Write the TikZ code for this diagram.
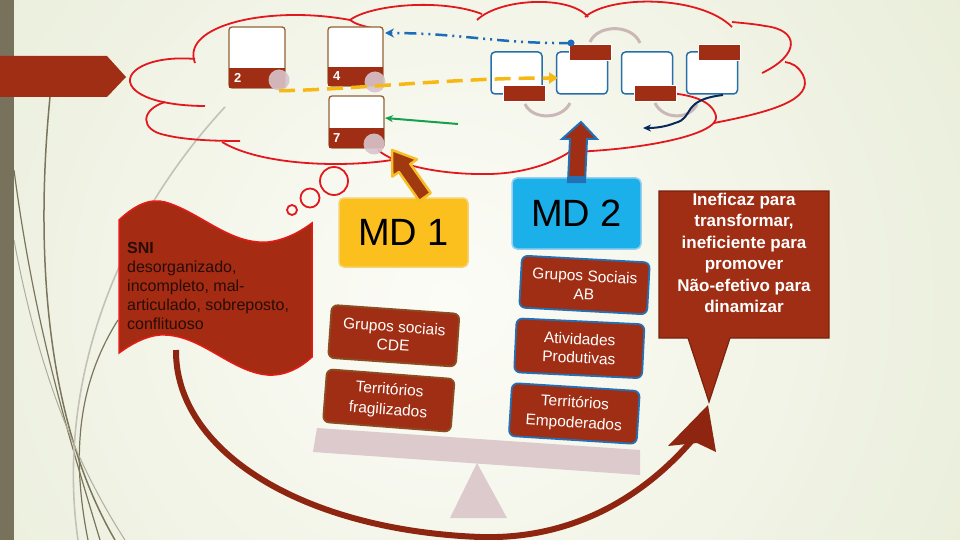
\documentclass[tikz,border=0pt]{standalone}
\usepackage{fontspec}
\setmainfont{Liberation Sans}
\usetikzlibrary{arrows.meta,calc}
\definecolor{bgin}{RGB}{252,252,247}
\definecolor{bgmid}{RGB}{243,245,233}
\definecolor{bgout}{RGB}{214,224,188}
\definecolor{barcol}{RGB}{120,114,92}
\definecolor{deco}{RGB}{123,117,92}
\definecolor{brick}{RGB}{160,46,20}
\definecolor{darkbrick}{RGB}{142,37,16}
\definecolor{cloudred}{RGB}{226,24,30}
\definecolor{boxbrown}{RGB}{146,98,52}
\definecolor{pinkgrey}{RGB}{216,196,204}
\definecolor{gold}{RGB}{246,185,20}
\definecolor{dotblue}{RGB}{28,108,184}
\definecolor{arrgreen}{RGB}{22,160,76}
\definecolor{navy}{RGB}{10,40,92}
\definecolor{arcgrey}{RGB}{202,184,184}
\definecolor{rbox}{RGB}{40,110,168}
\definecolor{mdyellow}{RGB}{252,192,30}
\definecolor{mdyellowedge}{RGB}{246,210,110}
\definecolor{mdblue}{RGB}{28,176,234}
\definecolor{mdblueedge}{RGB}{150,208,236}
\definecolor{sbrown}{RGB}{138,78,34}
\definecolor{sblue}{RGB}{36,112,180}
\definecolor{plank}{RGB}{220,202,205}
\definecolor{flagred}{RGB}{165,44,18}
\definecolor{flagedge}{RGB}{228,28,24}
\definecolor{snitext}{RGB}{40,12,8}
\definecolor{callbrd}{RGB}{120,36,14}
\definecolor{arrbrown}{RGB}{160,56,16}
\definecolor{arryellow}{RGB}{246,190,36}
\pgfdeclareradialshading{bgrad}{\pgfpoint{0bp}{0bp}}{color(0bp)=(bgin); color(12bp)=(bgmid); color(50bp)=(bgout)}
\begin{document}
\begin{tikzpicture}[x=1pt,y=-1pt,
  cloud/.style={draw=cloudred, line width=1.8pt},
  wbox/.style={draw=boxbrown, fill=white, line width=1.3pt, rounded corners=3pt, inner sep=0pt},
  numlab/.style={text=white, font=\bfseries\fontsize{13}{13}\selectfont, inner sep=0pt, anchor=base west},
  pcirc/.style={circle, fill=pinkgrey, fill opacity=0.9, inner sep=0pt, minimum size=21pt},
  rbx/.style={draw=rbox, fill=white, line width=1.5pt, rounded corners=4pt, inner sep=0pt, minimum width=51pt, minimum height=42pt},
  rlab/.style={draw=white, fill=brick, line width=1pt, inner sep=0pt, minimum width=42pt, minimum height=16pt},
  garc/.style={draw=arcgrey, line width=3pt},
  sidebox/.style={rounded corners=6pt, fill=brick, line width=1.8pt, text=white, align=center, inner sep=0pt, font=\fontsize{15.5}{18.5}\selectfont, minimum width=128pt, minimum height=53pt},
  widebox/.style={sidebox, font=\fontsize{15.5}{20.5}\selectfont},
  mdbox/.style={line width=1.5pt, rounded corners=5pt, inner sep=0pt, minimum width=129pt, font=\fontsize{38}{40}\selectfont}
]
\useasboundingbox (0,0) rectangle (960,540);
% background
\begin{scope}
\clip (0,0) rectangle (960,540);
\shade[shading=bgrad] (-150,-300) rectangle (1050,900);
\end{scope}
% decorative curves
\draw[deco, line width=1.5pt] (50,97) .. controls (35,250) and (45,420) .. (115,540);
\draw[deco, line width=1.2pt] (14,170) .. controls (35,330) and (70,440) .. (100,540);
\draw[deco!45, line width=1.6pt] (225,107) .. controls (120,220) and (55,380) .. (78,540);
\draw[deco, line width=1.2pt] (118,320) .. controls (80,380) and (70,450) .. (88,540);
\draw[deco!60, line width=1pt] (14,240) .. controls (40,380) and (80,470) .. (125,540);
\fill[barcol] (0,0) rectangle (14,540);
% left pentagon
\fill[brick] (0,56) -- (107,56) -- (126,77) -- (107,97) -- (0,97) -- cycle;
% cloud
\draw[cloud] (195,59) .. controls (150,55) and (120,72) .. (133,88) .. controls (145,102) and (180,106) .. (205,106);
\draw[cloud] (165,102) .. controls (140,110) and (140,130) .. (165,135) .. controls (185,140) and (215,141) .. (240,141);
\draw[cloud] (222,142) .. controls (260,165) and (340,168) .. (392,160);
\draw[cloud] (378,150) .. controls (395,165) and (440,175) .. (490,174) .. controls (530,173) and (560,160) .. (575,148);
\draw[cloud] (570,152) .. controls (640,150) and (720,135) .. (716,116) .. controls (712,100) and (690,95) .. (670,93);
\draw[cloud] (714,123) .. controls (770,112) and (815,100) .. (803,75) .. controls (798,66) and (792,63) .. (785,62);
\draw[cloud] (762,73) .. controls (800,55) and (800,30) .. (765,26) .. controls (755,24) and (742,23) .. (732,22);
\draw[cloud] (585,17) .. controls (610,-5) and (700,-5) .. (732,27);
\draw[cloud] (477,20) .. controls (500,-2) and (570,-5) .. (588,17);
\draw[cloud] (482,14) .. controls (440,-2) and (370,5) .. (350,20) .. controls (355,24) and (363,26) .. (372,28);
\draw[cloud] (350,20) .. controls (270,5) and (180,25) .. (195,63);
% thought bubbles
\draw[cloud] (334,181) circle[radius=14];
\draw[cloud] (310,198) circle[radius=9.5];
\draw[cloud] (292,210) circle[radius=5];
% numbered boxes
\node[wbox, minimum width=56pt, minimum height=61pt] (b2) at (257,57.5) {};
\fill[brick] (229,68) rectangle (285,88);
\node[numlab] (n2) at (234,83) {2};
\node[pcirc] (c2) at (279,80) {};
\node[wbox, minimum width=55pt, minimum height=59pt] (b4) at (355.5,56.5) {};
\fill[brick] (328,67) rectangle (383,86);
\node[numlab] (n4) at (333,81) {4};
\node[pcirc] (c4) at (375,82) {};
\node[wbox, minimum width=55pt, minimum height=52pt] (b7) at (356.5,122) {};
\fill[brick] (329,128) rectangle (384,148);
\node[numlab] (n7) at (333,143) {7};
\node[pcirc] (c7) at (374,144) {};
% right boxes
\node[rbx] (rA) at (516.5,73) {};
\node[rbx] (rB) at (582,73) {};
\node[rbx] (rC) at (647,73) {};
\node[rbx] (rD) at (712,73) {};
\draw[garc] (525,104) .. controls (532,120) and (562,120) .. (570,103);
\draw[garc] (590,42) .. controls (598,24) and (632,24) .. (640,43);
\draw[garc] (655,103) .. controls (663,120) and (690,120) .. (697,104);
\node[rlab] (lA) at (524.5,94) {};
\node[rlab] (lB) at (590,52.5) {};
\node[rlab] (lC) at (655,94) {};
\node[rlab] (lD) at (719.5,52.5) {};
% connectors in the cloud
\coordinate (yend) at (558,78);
\draw[gold, line width=3.5pt, dash pattern=on 16pt off 8pt, -{Triangle[length=9pt,width=11pt]}] (c2.south) .. controls (350,90) and (450,78) .. (yend);
\coordinate (bstart) at (571,43);
\coordinate (bend) at (385,33);
\fill[dotblue] (bstart) circle[radius=3.5];
\draw[dotblue, line width=2.5pt, dash pattern=on 12pt off 5pt on 2pt off 5pt on 2pt off 5pt, -{Stealth[length=9pt,width=9pt]}] (bstart) .. controls (500,44) and (460,33) .. (bend);
\coordinate (gstart) at (458,124);
\coordinate (gend) at (385,118);
\draw[arrgreen, line width=2pt, -{Stealth[length=8pt,width=7pt]}] (gstart) -- (gend);
\coordinate (nstart) at (723,95);
\coordinate (nend) at (643,128);
\draw[navy, line width=2pt, -{Stealth[length=8pt,width=7pt]}] (nstart) .. controls (680,100) and (695,118) .. (675,123) .. controls (665,127) and (655,128) .. (nend);
% big curved arrow
\draw[darkbrick, line width=6pt] (176,350) .. controls (175,450) and (300,530) .. (480,537) .. controls (580,540) and (650,490) .. (694,438);
\fill[darkbrick] (708,405) -- (716,452) -- (697,443) -- (668,446) -- cycle;
% seesaw
\fill[plank] (317,428) -- (640,450) -- (640,475) -- (313,452) -- cycle;
\fill[plank] (477,463) -- (507,518) -- (450,518) -- cycle;
% flag
\draw[fill=flagred, draw=flagedge, line width=1.5pt] (119,220) .. controls (135,205) and (150,198) .. (165,202) .. controls (200,212) and (230,245) .. (268,242) .. controls (285,240) and (300,232) .. (312,223) -- (312,357) .. controls (300,368) and (285,376) .. (268,375) .. controls (230,372) and (200,333) .. (160,335) .. controls (145,336) and (130,345) .. (119,353) -- cycle;
\node[anchor=north west, align=left, inner sep=0pt, text=snitext, font=\fontsize{16}{19}\selectfont] (sni) at (127,242) {\textbf{SNI}\\desorganizado,\\incompleto, mal-\\articulado, sobreposto,\\conflituoso};
% MD boxes
\node[mdbox, draw=mdyellowedge, fill=mdyellow, minimum height=69pt] (md1) at (403.5,232.5) {MD 1};
\node[mdbox, draw=mdblueedge, fill=mdblue, minimum height=71pt] (md2) at (576.5,213.5) {MD 2};
% side boxes
\node[sidebox, draw=sbrown, rotate=-4] (g1) at (393.8,335.8) {Grupos sociais\\CDE};
\node[widebox, draw=sbrown, rotate=-4.4] (t1) at (388.8,400.5) {Territórios\\fragilizados};
\node[sidebox, draw=sblue, rotate=-3.1, minimum height=52pt] (g2) at (584.5,285) {Grupos Sociais\\AB};
\node[sidebox, draw=sblue, rotate=-2.7, minimum height=54pt] (a2) at (579.3,348.3) {Atividades\\Produtivas};
\node[widebox, draw=sblue, rotate=-3.6] (t2) at (574.3,413.5) {Territórios\\Empoderados};
% arrow MD1 -> 7
\draw[fill=arrbrown, draw=arryellow, line width=2.5pt, line join=round] (419.3,201) -- (398.9,172) -- (392.3,176.6) -- (392,150) -- (416.9,159.4) -- (410.3,164) -- (430.7,193) -- cycle;
% arrow MD2 -> cloud
\draw[fill=brick, draw=sblue, line width=2pt] (568,182) -- (570,139) -- (562,139) -- (581,122) -- (597,139) -- (587,139) -- (585,182) -- cycle;
\fill[sblue] (568,176) rectangle (585,183);
% callout
\draw[fill=brick, draw=callbrd, line width=1.2pt] (659,191) -- (829,191) -- (829,338) -- (730,338) -- (709,402) -- (688,338) -- (659,338) -- cycle;
\node[anchor=north, align=center, inner sep=0pt, text=white, font=\bfseries\fontsize{17}{21.4}\selectfont] (call) at (744,193) {Ineficaz para\\transformar,\\ineficiente para\\promover\\Não-efetivo para\\dinamizar};
\end{tikzpicture}
\end{document}
